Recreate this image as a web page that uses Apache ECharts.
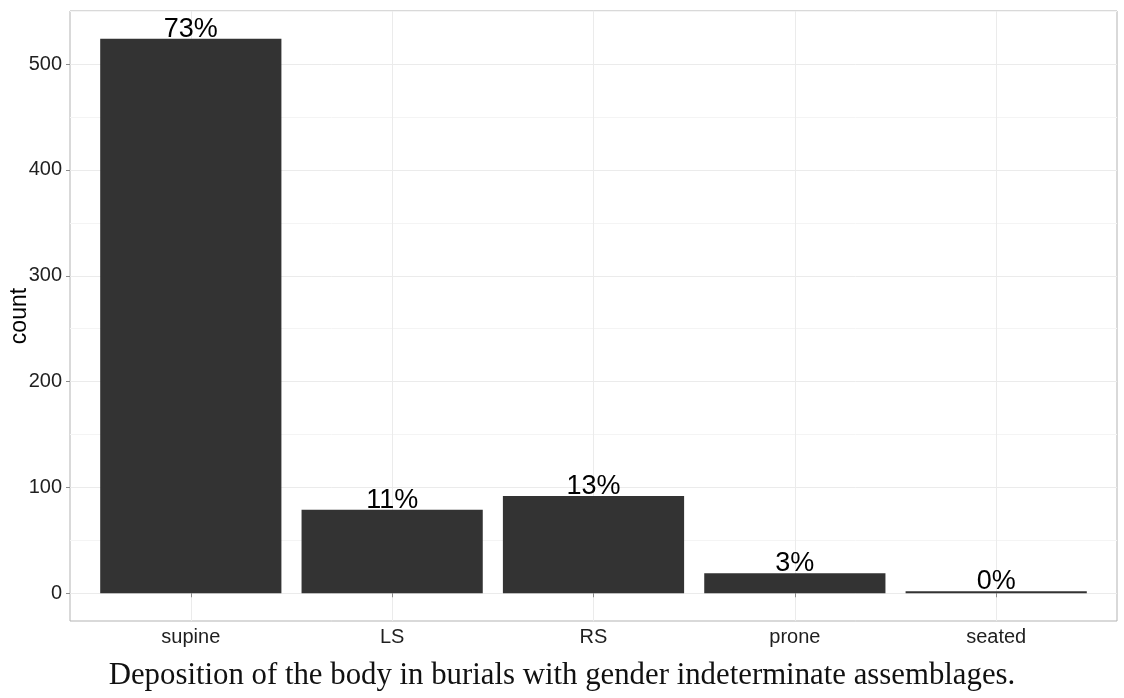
<!DOCTYPE html>
<html>
<head>
<meta charset="utf-8">
<script src="https://cdn.jsdelivr.net/npm/echarts@6/dist/echarts.min.js"></script>
<style>
  html, body { margin: 0; padding: 0; background: #ffffff; }
  #chart { width: 1124px; height: 698px; }
</style>
</head>
<body>
<div id="chart"></div>
<script>
// ---- data ----
const categories = ['supine', 'LS', 'RS', 'prone', 'seated'];
const counts = [524, 79, 92, 19, 2];
const yTicks = [0, 100, 200, 300, 400, 500];
const yMinorTicks = [50, 150, 250, 350, 450, 550];
const yTitle = 'count';
const caption = 'Deposition of the body in burials with gender indeterminate assemblages.';

// ---- derived ----
const total = counts.reduce((a, b) => a + b, 0);
const positions = categories.map((c, i) => i + 1);
const maxCount = Math.max(...counts);
const yMin = -0.05 * maxCount;
const yMax = maxCount * 1.05;
const xMin = 1 - 0.6;
const xMax = categories.length + 0.6;

const gridLeft = 70, gridTop = 11, gridWidth = 1047, gridHeight = 610;
const barWidth = 0.9 * gridWidth / (xMax - xMin);

const chart = echarts.init(document.getElementById('chart'), null, { renderer: 'canvas' });

const labelFont = 'Liberation Sans';
const gridColor = '#ebebeb';
const borderColor = '#b3b3b3';

chart.setOption({
  animation: false,
  backgroundColor: '#ffffff',
  title: {
    text: caption,
    left: 'center',
    top: 655,
    textStyle: {
      fontFamily: 'Liberation Serif',
      fontSize: 30.8,
      fontWeight: 'normal',
      color: '#111111'
    }
  },
  grid: {
    left: gridLeft, top: gridTop, width: gridWidth, height: gridHeight,
    containLabel: false,
    outerBoundsMode: 'none',
    show: true, borderColor: borderColor, borderWidth: 1, backgroundColor: '#ffffff'
  },
  xAxis: {
    type: 'value',
    min: xMin, max: xMax,
    axisLine: { show: false },
    axisTick: { show: true, length: 4, customValues: positions, lineStyle: { color: '#8c8c8c' } },
    axisLabel: {
      customValues: positions,
      formatter: v => categories[Math.round(v) - 1] || '',
      fontFamily: labelFont, fontSize: 20, color: '#1f1f1f', margin: 6
    },
    splitLine: { show: true, lineStyle: { color: gridColor, width: 1 } }
  },
  yAxis: [
    {
      type: 'value',
      min: yMin, max: yMax,
      name: yTitle,
      nameLocation: 'middle',
      nameRotate: 90,
      nameGap: 39,
      nameMoveOverlap: false,
      nameTextStyle: { fontFamily: labelFont, fontSize: 23, color: '#000000' },
      axisLine: { show: false },
      axisTick: { show: true, length: 4, customValues: yTicks, lineStyle: { color: '#8c8c8c' } },
      axisLabel: {
        customValues: yTicks,
        fontFamily: labelFont, fontSize: 20, color: '#1f1f1f', margin: 8
      },
      splitLine: { show: true, lineStyle: { color: gridColor, width: 1 } }
    },
    {
      type: 'value',
      min: yMin, max: yMax,
      position: 'left',
      axisLine: { show: false },
      axisTick: { show: false, customValues: yMinorTicks },
      axisLabel: { show: false, customValues: yMinorTicks },
      splitLine: { show: true, lineStyle: { color: '#f4f4f4', width: 1 } }
    }
  ],
  series: [{
    type: 'bar',
    xAxisIndex: 0,
    yAxisIndex: 0,
    barWidth: barWidth,
    data: positions.map((p, i) => [p, counts[i]]),
    itemStyle: { color: '#333333' },
    label: {
      show: true,
      position: 'top',
      distance: -4,
      formatter: p => Math.round(p.value[1] / total * 100) + '%',
      fontFamily: labelFont,
      fontSize: 27,
      color: '#000000'
    },
    z: 3
  }]
});
</script>
</body>
</html>
